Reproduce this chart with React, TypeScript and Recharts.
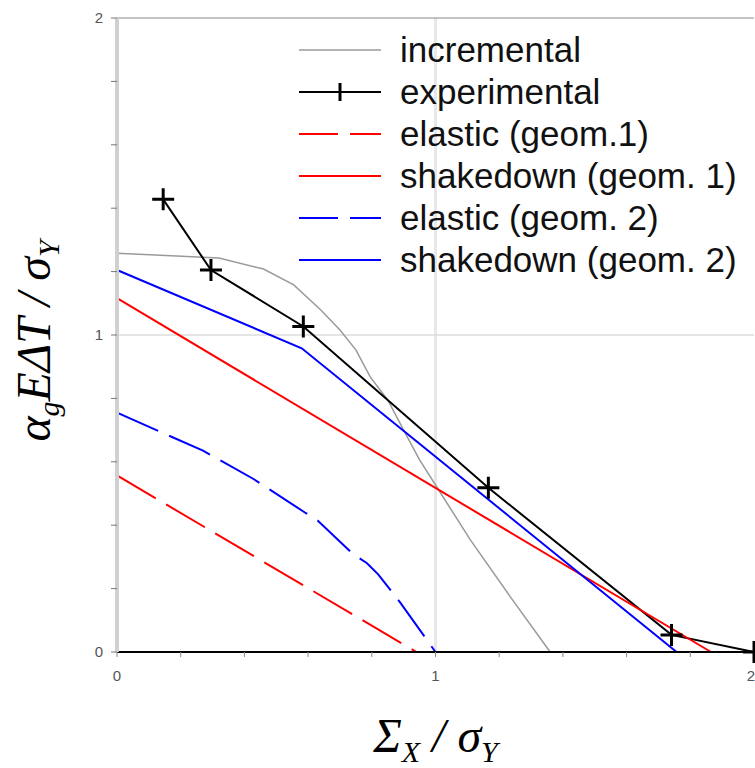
import React from "react";
import { LineChart, Line, XAxis, YAxis, ReferenceLine, Legend, Label } from "recharts";

// values, x = Σx/σY, y = αg EΔT/σY
const incrementalX = [0, 0.32, 0.46, 0.555, 0.64, 0.7, 0.75, 0.795, 0.85, 0.9, 0.95, 1.01, 1.11, 1.235, 1.36];
const incrementalY = [1.258, 1.243, 1.208, 1.158, 1.079, 1.016, 0.953, 0.868, 0.795, 0.7, 0.606, 0.511, 0.353, 0.174, 0];

const experimentalX = [0.145, 0.295, 0.585, 1.166, 1.741, 2.0];
const experimentalY = [1.428, 1.205, 1.027, 0.518, 0.054, 0];

const elastic1X = [0, 0.94];
const elastic1Y = [0.557, 0];

const shakedown1X = [0, 1.865];
const shakedown1Y = [1.116, 0];

const elastic2X = [0, 0.27, 0.43, 0.59, 0.63, 0.74, 0.785, 0.82, 0.89, 1.0];
const elastic2Y = [0.755, 0.635, 0.545, 0.44, 0.415, 0.31, 0.28, 0.245, 0.155, 0];

const shakedown2X = [0, 0.58, 1.757];
const shakedown2Y = [1.205, 0.958, 0];

const xTicks = [0, 0.2, 0.4, 0.6, 0.8, 1, 1.2, 1.4, 1.6, 1.8, 2];
const yTicks = [0, 0.2, 0.4, 0.6, 0.8, 1, 1.2, 1.4, 1.6, 1.8, 2];
const tickLabels = [0, 1, 2];

const toPoints = (xs: number[], ys: number[]) => xs.map((x, i) => ({ x, y: ys[i] }));

const series = [
  { name: "incremental", data: toPoints(incrementalX, incrementalY), color: "#9a9a9a", width: 1.5, dash: undefined, marker: false },
  { name: "experimental", data: toPoints(experimentalX, experimentalY), color: "#000000", width: 2, dash: undefined, marker: true },
  { name: "elastic (geom.1)", data: toPoints(elastic1X, elastic1Y), color: "#ff0000", width: 2, dash: "45 12", marker: false },
  { name: "shakedown (geom. 1)", data: toPoints(shakedown1X, shakedown1Y), color: "#ff0000", width: 2, dash: undefined, marker: false },
  { name: "elastic (geom. 2)", data: toPoints(elastic2X, elastic2Y), color: "#0000ff", width: 2, dash: "45 12", marker: false },
  { name: "shakedown (geom. 2)", data: toPoints(shakedown2X, shakedown2Y), color: "#0000ff", width: 2, dash: undefined, marker: false },
];

const fmtTick = (v: number) => (tickLabels.includes(v) ? String(v) : "");
const tickFont = "'Liberation Sans', Arial, sans-serif";

// x tick labels; the last one sits at the right edge so anchor it at its end
function XTick(props: any) {
  const { x, y, payload, index, visibleTicksCount } = props;
  const text = fmtTick(payload.value);
  if (!text) return null;
  const last = index === visibleTicksCount - 1;
  return (
    <text x={last ? x + 1 : x} y={y} dy="0.71em" textAnchor={last ? "end" : "middle"} fill="#555" fontSize={15} fontFamily={tickFont}>
      {text}
    </text>
  );
}

function PlusDot(props: any) {
  const { cx, cy, index } = props;
  if (cx == null || cy == null) return null;
  return (
    <path
      key={`plus-${index}`}
      d={`M${cx - 11},${cy}H${cx + 11}M${cx},${cy - 11}V${cy + 11}`}
      stroke="#000"
      strokeWidth={3}
      fill="none"
    />
  );
}

function LegendBox() {
  return (
    <div style={{ fontFamily: tickFont, fontSize: 35, color: "#111" }}>
      {series.map((s) => (
        <div key={s.name} style={{ display: "flex", alignItems: "center", height: 42, whiteSpace: "nowrap" }}>
          <svg width={82} height={24} style={{ marginRight: 19, flex: "none" }}>
            <line
              x1={0}
              y1={12}
              x2={82}
              y2={12}
              stroke={s.color}
              strokeWidth={s.width}
              strokeDasharray={s.dash ? "39 12" : undefined}
            />
            {s.marker && <path d="M41,3V21" stroke="#000" strokeWidth={3} />}
          </svg>
          <span style={{ lineHeight: "42px" }}>{s.name}</span>
        </div>
      ))}
    </div>
  );
}

const titleFont = { fontFamily: "'Liberation Serif', 'Times New Roman', serif", fontStyle: "italic" as const };

function YTitle(props: any) {
  const vb = props.viewBox || { x: 0, y: 18, width: 117, height: 634 };
  const cx = 50;
  const cy = vb.y + vb.height / 2 + 6;
  return (
    <text x={cx} y={cy} transform={`rotate(-90 ${cx} ${cy})`} textAnchor="middle" fontSize={48} fill="#000" {...titleFont}>
      α
      <tspan dy={9} fontSize={30}>g</tspan>
      <tspan dy={-9}>EΔT / σ</tspan>
      <tspan dy={9} fontSize={30}>Y</tspan>
    </text>
  );
}

function XTitle(props: any) {
  const vb = props.viewBox || { x: 117, y: 652, width: 637, height: 60 };
  const cx = vb.x + vb.width / 2;
  return (
    <text x={cx} y={752} textAnchor="middle" fontSize={48} fill="#000" {...titleFont}>
      Σ
      <tspan dy={10} fontSize={30}>X</tspan>
      <tspan dy={-10}> / σ</tspan>
      <tspan dy={10} fontSize={30}>Y</tspan>
    </text>
  );
}

export default function App() {
  return (
    <div style={{ position: "absolute", left: 0, top: 0, background: "#fff" }}>
      <LineChart width={755} height={768} margin={{ top: 18, right: 1, bottom: 56, left: 0 }}>
        <XAxis
          type="number"
          dataKey="x"
          domain={[0, 2]}
          ticks={xTicks}
          interval={0}
          height={60}
          axisLine={{ stroke: "#000", strokeWidth: 2 }}
          tickLine={{ stroke: "#888" }}
          tickSize={5}
          tickMargin={13}
          tick={XTick}
        >
          <Label content={XTitle} />
        </XAxis>
        <YAxis
          type="number"
          dataKey="y"
          domain={[0, 2]}
          ticks={yTicks}
          interval={0}
          tickFormatter={fmtTick}
          width={117}
          axisLine={{ stroke: "#d0d0d0", strokeWidth: 4 }}
          tickLine={{ stroke: "#777" }}
          tickSize={6}
          tickMargin={8}
          tick={{ fill: "#555", fontSize: 15, fontFamily: tickFont }}
        >
          <Label content={YTitle} />
        </YAxis>
        <ReferenceLine x={1} stroke="#e8e8e8" strokeWidth={3} />
        <ReferenceLine y={1} stroke="#dcdcdc" strokeWidth={1.5} />
        <ReferenceLine y={2} stroke="#888" strokeWidth={1} />
        <Legend
          layout="vertical"
          align="center"
          verticalAlign="middle"
          content={LegendBox}
          wrapperStyle={{ left: 299, top: 29, width: "auto", height: "auto" }}
        />
        {series.map((s) => (
          <Line
            key={s.name}
            data={s.data}
            dataKey="y"
            name={s.name}
            type="linear"
            stroke={s.color}
            strokeWidth={s.width}
            strokeDasharray={s.dash}
            dot={s.marker ? PlusDot : false}
            activeDot={false}
            isAnimationActive={false}
          />
        ))}
      </LineChart>
    </div>
  );
}
